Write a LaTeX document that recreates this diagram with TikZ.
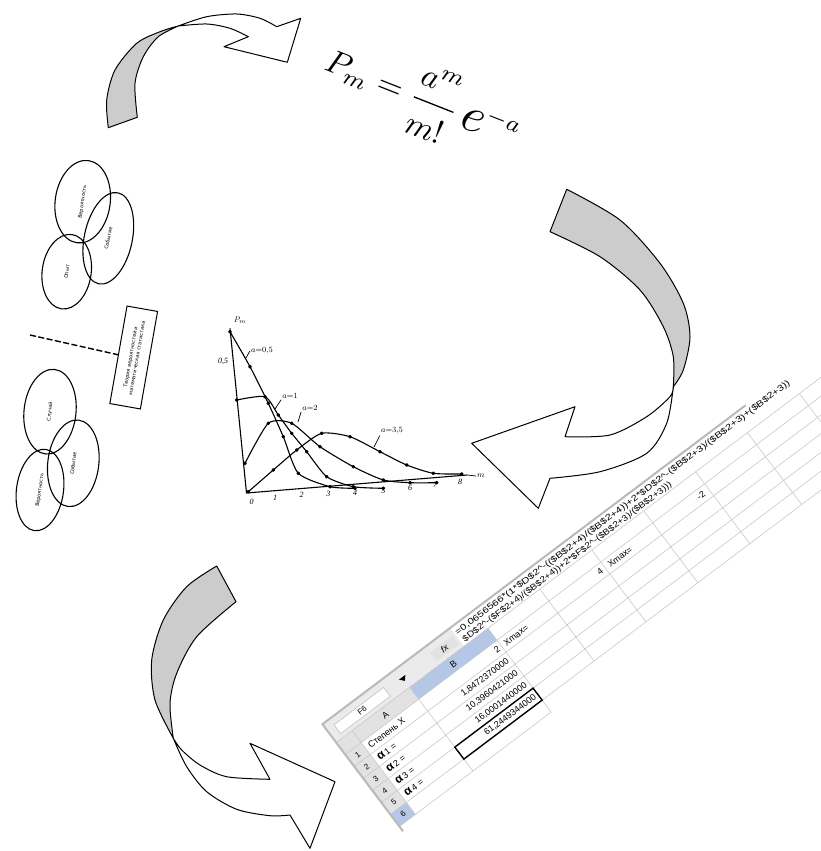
\documentclass[tikz,border=0pt]{standalone}
\usepackage{amsmath}
\usepackage{graphicx}
\usepackage{fontspec}
\setmainfont{Liberation Serif}
\newfontfamily\sheetfont{Liberation Sans}
\newfontfamily\cyrfont{DejaVu Sans}
\usetikzlibrary{shapes.geometric}
\definecolor{arrowgray}{HTML}{CCCCCC}
\definecolor{selblue}{HTML}{B4C7E7}
\definecolor{hdrgray}{HTML}{E2E2E2}
\definecolor{gridgray}{HTML}{C8C8C8}
\begin{document}
\begin{tikzpicture}[x=1pt, y=-1pt,
  arrband/.style={draw=black, line width=1pt, fill=arrowgray, line join=round},
  arrface/.style={draw=black, line width=1pt, fill=white, line join=round},
  vennell/.style={ellipse, draw=black, line width=1.1pt, inner sep=0pt, font=\cyrfont\fontsize{5}{6}\selectfont},
  gcurve/.style={line width=1.1pt, line join=round},
  glabel/.style={font=\fontsize{8}{9}\selectfont\itshape, inner sep=1pt},
  celltext/.style={font=\sheetfont\fontsize{9}{10}\selectfont, inner sep=1pt},
  gline/.style={draw=gridgray, line width=0.6pt},
]
\useasboundingbox (0,0) rectangle (821,851);

% ---------- top curved arrow ----------
\filldraw[arrband] plot[smooth] coordinates {(108.3,127.7) (106.7,100) (115,70) (136.7,43.3) (160,31.7) (178.3,26)}
  -- plot[smooth] coordinates {(178.3,26) (158.3,36.7) (143.3,56.7) (135,83.3) (137.3,117.3)} -- cycle;
\filldraw[arrface] plot[smooth] coordinates {(178.3,26) (206.7,16.7) (236.7,14) (260,18.3) (276.7,26.7)}
  -- (300.7,18.3) -- (287.3,62.3) -- (224,46.7) -- (248.3,36.7)
  -- plot[smooth] coordinates {(248.3,36.7) (230,28.3) (206.7,24) (178.3,26)} -- cycle;

% ---------- right curved arrow ----------
\filldraw[arrband] plot[smooth] coordinates {(566.7,189.3) (620,220) (660,263.3) (683.3,303.3) (690,336.7) (683.3,370) (673.3,386.7)}
  -- plot[smooth] coordinates {(673.3,386.7) (673.3,356.7) (663.3,326.7) (640,290) (600,256.7) (550,231.7)} -- cycle;
\filldraw[arrface] plot[smooth] coordinates {(673.3,386.7) (666.7,423.3) (646.7,453.3) (600,471.7) (550,478.3)}
  -- (538.3,508.3) -- (471.7,443.3) -- (575,406.7) -- (565,436.7)
  -- plot[smooth] coordinates {(565,436.7) (610,435) (646.7,416.7) (670,396.7) (673.3,386.7)} -- cycle;

% ---------- bottom-left curved arrow ----------
\filldraw[arrband] plot[smooth] coordinates {(216.7,566) (186.7,586.7) (163.3,620) (151.7,660) (155,700) (173.3,738.3)}
  -- plot[smooth] coordinates {(173.3,738.3) (170,703.3) (176.7,673.3) (196.7,636.7) (236,601.7)} -- cycle;
\filldraw[arrface] plot[smooth] coordinates {(173.3,738.3) (181.7,750) (200,765) (226.7,776.7) (270,779.3)}
  -- (250,743.3) -- (335,781.7) -- (310,848.3) -- (290,815)
  -- plot[smooth] coordinates {(290,815) (270,815.7) (236.7,809.3) (206.7,791.7) (186.7,766.7) (173.3,738.3)} -- cycle;

% ---------- formula ----------
\node[rotate=-21.5, inner sep=0pt] (formula) at (422,100)
  {\scalebox{3.3}{$P_{m}=\dfrac{a^{m}\rule[-2.5pt]{0pt}{0pt}}{\rule{0pt}{9.5pt}m!}\,\raisebox{-1pt}{\scalebox{1.5}{$e$}}^{-a}$}};

% ---------- Venn clusters ----------
\node[vennell, minimum width=55, minimum height=83, rotate=-8] (e1) at (82.7,201.7) {\rotatebox{90}{Вероятность}};
\node[vennell, minimum width=48, minimum height=93, rotate=-12] (e2) at (108.3,238.3) {\rotatebox{90}{Событие}};
\node[vennell, minimum width=49, minimum height=75, rotate=-8] (e3) at (66.7,271.7) {\rotatebox{90}{Опыт}};

\node[vennell, minimum width=52, minimum height=85, rotate=-6] (e4) at (50,411.7) {\rotatebox{90}{Случай}};
\node[vennell, minimum width=51, minimum height=87, rotate=-7] (e5) at (73.3,463.3) {\rotatebox{90}{Событие}};
\node[vennell, minimum width=47, minimum height=82, rotate=-8] (e6) at (40,490) {\rotatebox{90}{Вероятность}};

\node[draw=black, line width=1pt, rotate=80, minimum width=99, minimum height=31, align=center,
      inner sep=1pt, font=\cyrfont\fontsize{5}{6.5}\selectfont] (rect) at (133.7,357.5)
  {Теория вероятностей и\\математическая статистика};
\coordinate (dstart) at (30,335);
\draw[line width=1.4pt, dash pattern=on 6pt off 2.5pt] (dstart) -- (rect.north);

% ---------- Poisson graph ----------
\coordinate (ytop) at (230,328.3);
\coordinate (orig) at (246.5,493);
\coordinate (xend) at (467,475);
\draw[gcurve] (ytop) -- (orig) -- (xend);
\draw[gcurve] plot[smooth, tension=0.4, mark=*, mark size=1.3pt] coordinates
  {(230,331.7) (250,366.7) (268.3,403.3) (283.3,436.7) (298.3,473.3) (330,486.7) (355,488.3)};
\draw[gcurve] plot[smooth, tension=0.4, mark=*, mark size=1.3pt] coordinates
  {(236.7,400) (265,396.7) (278.3,415) (291.7,433.3) (306.7,451.7) (326.7,476.7) (353.3,486.7) (383.3,488.3)};
\draw[gcurve] plot[smooth, tension=0.4, mark=*, mark size=1.3pt] coordinates
  {(245,463.3) (268.3,423.3) (291.7,423.3) (320,446.7) (353.3,466.7) (383.3,480) (410,482.7) (436.7,482.7)};
\draw[gcurve] plot[smooth, tension=0.4, mark=*, mark size=1.3pt] coordinates
  {(248.3,491.7) (273.3,470) (296.7,450) (321.7,433.3) (350,436.7) (380,451.7) (406.7,465) (433.3,473.3) (461.7,474)};

\node[glabel] (pm) at (240,320) {$P_m$};
\node[glabel] (yhalf) at (223,361.7) {0,5};
\node[glabel] (la05) at (262,351) {$a{=}0{,}5$};
\node[glabel] (la1) at (290,396) {$a{=}1$};
\node[glabel] (la2) at (310,408) {$a{=}2$};
\node[glabel] (la35) at (392,431) {$a{=}3{,}5$};
\coordinate (c05) at (246,358);
\coordinate (c1) at (275,409);
\coordinate (c2) at (298,422);
\coordinate (c35) at (374,447);
\draw[line width=0.7pt] (c05) -- (la05.west);
\draw[line width=0.7pt] (c1) -- (la1.south west);
\draw[line width=0.7pt] (c2) -- (la2.south west);
\draw[line width=0.7pt] (c35) -- (la35.south west);
\node[glabel, anchor=west] (mlab) at (476,476) {$m$};
\draw[line width=0.7pt] (xend) -- (mlab.west);
\node[glabel] (t0) at (251.7,502) {0};
\node[glabel] (t1) at (275,498) {1};
\node[glabel] (t2) at (301.7,495) {2};
\node[glabel] (t3) at (328.3,494) {3};
\node[glabel] (t4) at (355,493) {4};
\node[glabel] (t5) at (383.3,491) {5};
\node[glabel] (t6) at (410,488) {6};
\node[glabel] (t7) at (435,485) {7};
\node[glabel] (t8) at (460,482) {8};

% ---------- spreadsheet ----------
\begin{scope}[shift={(332,737)}, rotate=37, transform shape]
  \fill[hdrgray!70] (0,-16) rectangle (160,7);
  \fill[hdrgray] (0,7) rectangle (92,22);
  \fill[selblue] (92,7) rectangle (190,22);
  \fill[hdrgray] (0,22) rectangle (20,112);
  \fill[selblue] (0,97) rectangle (20,112);
  \foreach \yy in {7,22,37,52,67,82,97} { \draw[gline] (0,\yy) -- (640,\yy); }
  \draw[gline] (0,112) -- (190,112);
  \foreach \xx in {20,92,190} { \draw[gline] (\xx,7) -- (\xx,112); }
  \foreach \xx in {255,320,385,450,515,580} { \draw[gline] (\xx,7) -- (\xx,97); }
  \draw[gray!55, line width=2pt] (0,118) -- (0,-16) -- (530,-16);

  \node[celltext, draw=gray!60, fill=white, minimum width=62, minimum height=11, font=\sheetfont\fontsize{8}{9}\selectfont] (namebox) at (40,-3) {F6};
  \fill (88,-5.5) -- (96,-5.5) -- (92,-1) -- cycle;
  \node[celltext, fill=hdrgray, minimum width=28, minimum height=11] (fx) at (143,-3) {\itshape fx};
  \node[celltext, anchor=west, xscale=1.3, font=\sheetfont\fontsize{8.5}{9}\selectfont] (fline1) at (160,-8)
    {=0,0656566*(1*\$D\$2\textasciicircum-((\$B\$2+4)/(\$B\$2+4))+2*\$D\$2\textasciicircum-(\$B\$2+3)/(\$B\$2+3)+(\$B\$2+3))};
  \node[celltext, anchor=west, xscale=1.18, font=\sheetfont\fontsize{8.5}{9}\selectfont] (fline2) at (162,2)
    {\$D\$2\textasciicircum-(\$F\$2+4)/(\$B\$2+4))+2*\$F\$2\textasciicircum-(\$B\$2+3)/(\$B\$2+3)))};

  \node[celltext] (hA) at (56,14.5) {A};
  \node[celltext] (hB) at (141,14.5) {B};
  \node[celltext, font=\sheetfont\fontsize{8}{9}\selectfont] (r1) at (10,29.5) {1};
  \node[celltext, font=\sheetfont\fontsize{8}{9}\selectfont] (r2) at (10,44.5) {2};
  \node[celltext, font=\sheetfont\fontsize{8}{9}\selectfont] (r3) at (10,59.5) {3};
  \node[celltext, font=\sheetfont\fontsize{8}{9}\selectfont] (r4) at (10,74.5) {4};
  \node[celltext, font=\sheetfont\fontsize{8}{9}\selectfont] (r5) at (10,89.5) {5};
  \node[celltext, font=\sheetfont\fontsize{8}{9}\selectfont] (r6) at (10,104.5) {6};

  \node[celltext, anchor=west] (a1) at (23,29.5) {Степень X};
  \node[celltext, anchor=west] (a2) at (23,44.5) {\textbf{\large α}\,1 =};
  \node[celltext, anchor=west] (a3) at (23,59.5) {\textbf{\large α}\,2 =};
  \node[celltext, anchor=west] (a4) at (23,74.5) {\textbf{\large α}\,3 =};
  \node[celltext, anchor=west] (a5) at (23,89.5) {\textbf{\large α}\,4 =};

  \node[celltext, anchor=east] (b1) at (188,29.5) {2};
  \node[celltext, anchor=east] (b2) at (188,44.5) {1,8472370000};
  \node[celltext, anchor=east] (b3) at (188,59.5) {10,3960421000};
  \node[celltext, anchor=east] (b4) at (188,74.5) {16,0001440000};
  \node[celltext, draw=black, line width=1.4pt, minimum width=98, minimum height=15, text width=92, align=right] (b5) at (141,89.5) {61,2449344000};

  \node[celltext, anchor=west] (c1) at (193,29.5) {Xmax=};
  \node[celltext, anchor=east] (d1) at (317,29.5) {4};
  \node[celltext, anchor=west] (e1c) at (323,29.5) {Xmax=};
  \node[celltext, anchor=east] (f1) at (445,29.5) {-2};
\end{scope}
\end{tikzpicture}
\end{document}
